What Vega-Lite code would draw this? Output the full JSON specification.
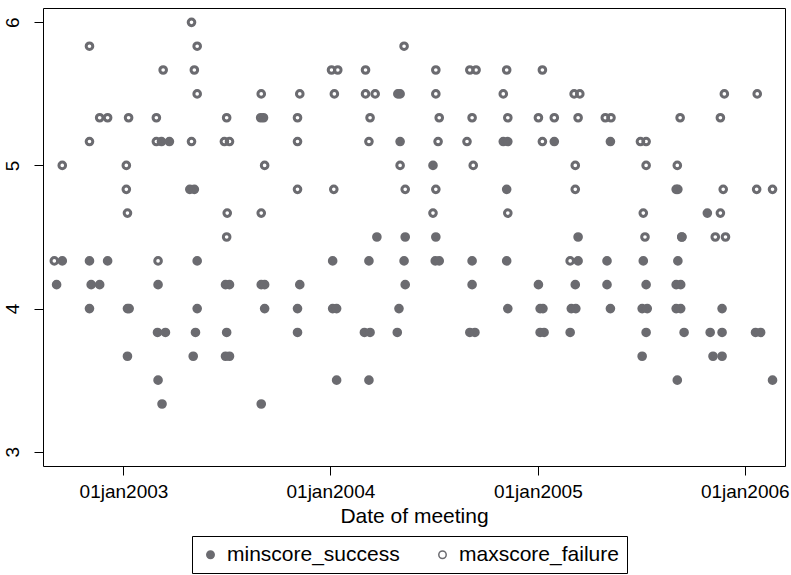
{
  "$schema": "https://vega.github.io/schema/vega-lite/v6.json",
  "width": 742,
  "height": 458,
  "autosize": {"type": "none"},
  "padding": {"left": 43, "top": 8, "right": 6, "bottom": 109},
  "background": "white",
  "config": {
    "font": "Liberation Sans",
    "view": {"stroke": "#000000", "strokeWidth": 1},
    "axis": {"domain": false, "grid": false, "tickColor": "#000000", "tickSize": 9, "tickWidth": 1, "labelColor": "#000000", "titleColor": "#000000", "labelFontSize": 19, "titleFontSize": 21, "titleFontWeight": "normal"}
  },
  "data": {"values": [
    {"d":"2002-09-05","s":4.167,"t":"minscore_success"},
    {"d":"2002-09-15","s":4.333,"t":"minscore_success"},
    {"d":"2002-11-02","s":4.333,"t":"minscore_success"},
    {"d":"2002-11-05","s":4.167,"t":"minscore_success"},
    {"d":"2002-11-02","s":4.0,"t":"minscore_success"},
    {"d":"2002-11-20","s":4.167,"t":"minscore_success"},
    {"d":"2002-12-04","s":4.333,"t":"minscore_success"},
    {"d":"2003-01-08","s":4.0,"t":"minscore_success"},
    {"d":"2003-01-11","s":4.0,"t":"minscore_success"},
    {"d":"2003-01-08","s":3.667,"t":"minscore_success"},
    {"d":"2003-03-09","s":5.167,"t":"minscore_success"},
    {"d":"2003-03-23","s":5.167,"t":"minscore_success"},
    {"d":"2003-03-03","s":4.167,"t":"minscore_success"},
    {"d":"2003-03-02","s":3.833,"t":"minscore_success"},
    {"d":"2003-03-16","s":3.833,"t":"minscore_success"},
    {"d":"2003-03-03","s":3.5,"t":"minscore_success"},
    {"d":"2003-03-10","s":3.333,"t":"minscore_success"},
    {"d":"2003-04-28","s":4.833,"t":"minscore_success"},
    {"d":"2003-05-06","s":4.833,"t":"minscore_success"},
    {"d":"2003-05-11","s":4.333,"t":"minscore_success"},
    {"d":"2003-05-11","s":4.0,"t":"minscore_success"},
    {"d":"2003-05-08","s":3.833,"t":"minscore_success"},
    {"d":"2003-05-04","s":3.667,"t":"minscore_success"},
    {"d":"2003-06-30","s":4.167,"t":"minscore_success"},
    {"d":"2003-07-07","s":4.167,"t":"minscore_success"},
    {"d":"2003-07-02","s":3.833,"t":"minscore_success"},
    {"d":"2003-06-30","s":3.667,"t":"minscore_success"},
    {"d":"2003-07-07","s":3.667,"t":"minscore_success"},
    {"d":"2003-09-05","s":5.333,"t":"minscore_success"},
    {"d":"2003-09-01","s":4.167,"t":"minscore_success"},
    {"d":"2003-09-07","s":4.167,"t":"minscore_success"},
    {"d":"2003-09-07","s":4.0,"t":"minscore_success"},
    {"d":"2003-09-01","s":3.333,"t":"minscore_success"},
    {"d":"2003-11-08","s":4.167,"t":"minscore_success"},
    {"d":"2003-11-04","s":4.0,"t":"minscore_success"},
    {"d":"2003-11-04","s":3.833,"t":"minscore_success"},
    {"d":"2004-01-05","s":4.333,"t":"minscore_success"},
    {"d":"2004-01-05","s":4.0,"t":"minscore_success"},
    {"d":"2004-01-12","s":4.0,"t":"minscore_success"},
    {"d":"2004-01-12","s":3.5,"t":"minscore_success"},
    {"d":"2004-03-09","s":4.333,"t":"minscore_success"},
    {"d":"2004-03-01","s":3.833,"t":"minscore_success"},
    {"d":"2004-03-11","s":3.833,"t":"minscore_success"},
    {"d":"2004-03-09","s":3.5,"t":"minscore_success"},
    {"d":"2004-03-23","s":4.5,"t":"minscore_success"},
    {"d":"2004-05-03","s":5.5,"t":"minscore_success"},
    {"d":"2004-05-03","s":5.167,"t":"minscore_success"},
    {"d":"2004-05-10","s":4.333,"t":"minscore_success"},
    {"d":"2004-05-12","s":4.5,"t":"minscore_success"},
    {"d":"2004-05-12","s":4.167,"t":"minscore_success"},
    {"d":"2004-05-01","s":4.0,"t":"minscore_success"},
    {"d":"2004-04-28","s":3.833,"t":"minscore_success"},
    {"d":"2004-06-30","s":5.0,"t":"minscore_success"},
    {"d":"2004-07-05","s":4.5,"t":"minscore_success"},
    {"d":"2004-07-04","s":4.333,"t":"minscore_success"},
    {"d":"2004-07-11","s":4.333,"t":"minscore_success"},
    {"d":"2004-09-07","s":4.333,"t":"minscore_success"},
    {"d":"2004-09-07","s":4.167,"t":"minscore_success"},
    {"d":"2004-09-03","s":3.833,"t":"minscore_success"},
    {"d":"2004-09-12","s":3.833,"t":"minscore_success"},
    {"d":"2004-11-01","s":5.167,"t":"minscore_success"},
    {"d":"2004-11-09","s":5.167,"t":"minscore_success"},
    {"d":"2004-11-07","s":4.833,"t":"minscore_success"},
    {"d":"2004-11-07","s":4.333,"t":"minscore_success"},
    {"d":"2004-11-09","s":4.0,"t":"minscore_success"},
    {"d":"2005-01-02","s":4.167,"t":"minscore_success"},
    {"d":"2005-01-05","s":4.0,"t":"minscore_success"},
    {"d":"2005-01-10","s":4.0,"t":"minscore_success"},
    {"d":"2005-01-05","s":3.833,"t":"minscore_success"},
    {"d":"2005-01-12","s":3.833,"t":"minscore_success"},
    {"d":"2005-01-30","s":5.167,"t":"minscore_success"},
    {"d":"2005-03-13","s":4.5,"t":"minscore_success"},
    {"d":"2005-03-13","s":4.333,"t":"minscore_success"},
    {"d":"2005-03-08","s":4.167,"t":"minscore_success"},
    {"d":"2005-03-01","s":4.0,"t":"minscore_success"},
    {"d":"2005-03-09","s":4.0,"t":"minscore_success"},
    {"d":"2005-02-27","s":3.833,"t":"minscore_success"},
    {"d":"2005-05-09","s":5.167,"t":"minscore_success"},
    {"d":"2005-05-03","s":4.333,"t":"minscore_success"},
    {"d":"2005-05-03","s":4.167,"t":"minscore_success"},
    {"d":"2005-05-09","s":4.0,"t":"minscore_success"},
    {"d":"2005-07-06","s":4.333,"t":"minscore_success"},
    {"d":"2005-07-11","s":4.167,"t":"minscore_success"},
    {"d":"2005-07-04","s":4.0,"t":"minscore_success"},
    {"d":"2005-07-13","s":4.0,"t":"minscore_success"},
    {"d":"2005-07-11","s":3.833,"t":"minscore_success"},
    {"d":"2005-07-04","s":3.667,"t":"minscore_success"},
    {"d":"2005-09-12","s":4.5,"t":"minscore_success"},
    {"d":"2005-09-05","s":4.333,"t":"minscore_success"},
    {"d":"2005-09-02","s":4.167,"t":"minscore_success"},
    {"d":"2005-09-10","s":4.167,"t":"minscore_success"},
    {"d":"2005-09-02","s":4.0,"t":"minscore_success"},
    {"d":"2005-09-10","s":4.0,"t":"minscore_success"},
    {"d":"2005-09-16","s":3.833,"t":"minscore_success"},
    {"d":"2005-09-04","s":3.5,"t":"minscore_success"},
    {"d":"2005-09-02","s":4.833,"t":"minscore_success"},
    {"d":"2005-10-27","s":4.667,"t":"minscore_success"},
    {"d":"2005-11-22","s":4.0,"t":"minscore_success"},
    {"d":"2005-11-01","s":3.833,"t":"minscore_success"},
    {"d":"2005-11-22","s":3.833,"t":"minscore_success"},
    {"d":"2005-11-06","s":3.667,"t":"minscore_success"},
    {"d":"2005-11-22","s":3.667,"t":"minscore_success"},
    {"d":"2006-01-20","s":3.833,"t":"minscore_success"},
    {"d":"2006-01-29","s":3.833,"t":"minscore_success"},
    {"d":"2006-02-19","s":3.5,"t":"minscore_success"},
    {"d":"2002-09-15","s":5.0,"t":"maxscore_failure"},
    {"d":"2002-09-01","s":4.333,"t":"maxscore_failure"},
    {"d":"2002-11-02","s":5.833,"t":"maxscore_failure"},
    {"d":"2002-11-02","s":5.167,"t":"maxscore_failure"},
    {"d":"2002-11-20","s":5.333,"t":"maxscore_failure"},
    {"d":"2002-12-04","s":5.333,"t":"maxscore_failure"},
    {"d":"2003-01-10","s":5.333,"t":"maxscore_failure"},
    {"d":"2003-01-06","s":5.0,"t":"maxscore_failure"},
    {"d":"2003-01-06","s":4.833,"t":"maxscore_failure"},
    {"d":"2003-01-08","s":4.667,"t":"maxscore_failure"},
    {"d":"2003-03-12","s":5.667,"t":"maxscore_failure"},
    {"d":"2003-02-28","s":5.333,"t":"maxscore_failure"},
    {"d":"2003-02-28","s":5.167,"t":"maxscore_failure"},
    {"d":"2003-03-03","s":4.333,"t":"maxscore_failure"},
    {"d":"2003-05-01","s":6.0,"t":"maxscore_failure"},
    {"d":"2003-05-11","s":5.833,"t":"maxscore_failure"},
    {"d":"2003-05-06","s":5.667,"t":"maxscore_failure"},
    {"d":"2003-05-11","s":5.5,"t":"maxscore_failure"},
    {"d":"2003-05-01","s":5.167,"t":"maxscore_failure"},
    {"d":"2003-07-02","s":5.333,"t":"maxscore_failure"},
    {"d":"2003-06-28","s":5.167,"t":"maxscore_failure"},
    {"d":"2003-07-07","s":5.167,"t":"maxscore_failure"},
    {"d":"2003-07-03","s":4.667,"t":"maxscore_failure"},
    {"d":"2003-07-02","s":4.5,"t":"maxscore_failure"},
    {"d":"2003-09-01","s":5.5,"t":"maxscore_failure"},
    {"d":"2003-08-31","s":5.333,"t":"maxscore_failure"},
    {"d":"2003-09-07","s":5.0,"t":"maxscore_failure"},
    {"d":"2003-09-01","s":4.667,"t":"maxscore_failure"},
    {"d":"2003-11-08","s":5.5,"t":"maxscore_failure"},
    {"d":"2003-11-04","s":5.333,"t":"maxscore_failure"},
    {"d":"2003-11-04","s":5.167,"t":"maxscore_failure"},
    {"d":"2003-11-04","s":4.833,"t":"maxscore_failure"},
    {"d":"2004-01-03","s":5.667,"t":"maxscore_failure"},
    {"d":"2004-01-14","s":5.667,"t":"maxscore_failure"},
    {"d":"2004-01-08","s":5.5,"t":"maxscore_failure"},
    {"d":"2004-01-07","s":4.833,"t":"maxscore_failure"},
    {"d":"2004-03-03","s":5.667,"t":"maxscore_failure"},
    {"d":"2004-03-03","s":5.5,"t":"maxscore_failure"},
    {"d":"2004-03-20","s":5.5,"t":"maxscore_failure"},
    {"d":"2004-03-11","s":5.333,"t":"maxscore_failure"},
    {"d":"2004-03-09","s":5.167,"t":"maxscore_failure"},
    {"d":"2004-05-10","s":5.833,"t":"maxscore_failure"},
    {"d":"2004-04-29","s":5.5,"t":"maxscore_failure"},
    {"d":"2004-05-03","s":5.0,"t":"maxscore_failure"},
    {"d":"2004-05-12","s":4.833,"t":"maxscore_failure"},
    {"d":"2004-07-05","s":5.667,"t":"maxscore_failure"},
    {"d":"2004-07-05","s":5.5,"t":"maxscore_failure"},
    {"d":"2004-07-11","s":5.333,"t":"maxscore_failure"},
    {"d":"2004-07-09","s":5.167,"t":"maxscore_failure"},
    {"d":"2004-07-05","s":4.833,"t":"maxscore_failure"},
    {"d":"2004-06-30","s":4.667,"t":"maxscore_failure"},
    {"d":"2004-09-03","s":5.667,"t":"maxscore_failure"},
    {"d":"2004-09-14","s":5.667,"t":"maxscore_failure"},
    {"d":"2004-09-07","s":5.333,"t":"maxscore_failure"},
    {"d":"2004-08-29","s":5.167,"t":"maxscore_failure"},
    {"d":"2004-09-09","s":5.0,"t":"maxscore_failure"},
    {"d":"2004-11-07","s":5.667,"t":"maxscore_failure"},
    {"d":"2004-11-01","s":5.5,"t":"maxscore_failure"},
    {"d":"2004-11-09","s":5.333,"t":"maxscore_failure"},
    {"d":"2004-11-09","s":4.667,"t":"maxscore_failure"},
    {"d":"2005-01-09","s":5.667,"t":"maxscore_failure"},
    {"d":"2005-01-02","s":5.333,"t":"maxscore_failure"},
    {"d":"2005-01-09","s":5.167,"t":"maxscore_failure"},
    {"d":"2005-01-30","s":5.333,"t":"maxscore_failure"},
    {"d":"2005-03-06","s":5.5,"t":"maxscore_failure"},
    {"d":"2005-03-16","s":5.5,"t":"maxscore_failure"},
    {"d":"2005-03-13","s":5.333,"t":"maxscore_failure"},
    {"d":"2005-03-08","s":5.0,"t":"maxscore_failure"},
    {"d":"2005-03-08","s":4.833,"t":"maxscore_failure"},
    {"d":"2005-02-27","s":4.333,"t":"maxscore_failure"},
    {"d":"2005-04-30","s":5.333,"t":"maxscore_failure"},
    {"d":"2005-05-10","s":5.333,"t":"maxscore_failure"},
    {"d":"2005-07-01","s":5.167,"t":"maxscore_failure"},
    {"d":"2005-07-11","s":5.167,"t":"maxscore_failure"},
    {"d":"2005-07-11","s":5.0,"t":"maxscore_failure"},
    {"d":"2005-07-06","s":4.667,"t":"maxscore_failure"},
    {"d":"2005-07-09","s":4.5,"t":"maxscore_failure"},
    {"d":"2005-09-09","s":5.333,"t":"maxscore_failure"},
    {"d":"2005-09-04","s":5.0,"t":"maxscore_failure"},
    {"d":"2005-09-05","s":4.833,"t":"maxscore_failure"},
    {"d":"2005-09-12","s":4.5,"t":"maxscore_failure"},
    {"d":"2005-11-19","s":5.333,"t":"maxscore_failure"},
    {"d":"2005-11-26","s":5.5,"t":"maxscore_failure"},
    {"d":"2005-11-24","s":4.833,"t":"maxscore_failure"},
    {"d":"2005-11-19","s":4.667,"t":"maxscore_failure"},
    {"d":"2005-11-10","s":4.5,"t":"maxscore_failure"},
    {"d":"2005-11-28","s":4.5,"t":"maxscore_failure"},
    {"d":"2006-01-23","s":5.5,"t":"maxscore_failure"},
    {"d":"2006-01-22","s":4.833,"t":"maxscore_failure"},
    {"d":"2006-02-19","s":4.833,"t":"maxscore_failure"}
  ]},
  "mark": {"type": "point", "filled": true, "shape": "circle", "size": 44, "stroke": "#6b6b70", "strokeWidth": 3, "opacity": 1},
  "encoding": {
    "x": {
      "field": "d", "type": "temporal", "title": "Date of meeting",
      "scale": {"type": "utc", "domain": [{"year": 2002, "month": 8, "date": 12, "utc": true}, {"year": 2006, "month": 3, "date": 13, "utc": true}]},
      "axis": {
        "values": [{"year": 2003, "month": 1, "date": 1, "utc": true}, {"year": 2004, "month": 1, "date": 1, "utc": true}, {"year": 2005, "month": 1, "date": 1, "utc": true}, {"year": 2006, "month": 1, "date": 1, "utc": true}],
        "labelExpr": "lower(utcFormat(datum.value, '%d%b%Y'))",
        "labelPadding": 7, "titlePadding": 4, "labelFlush": false, "labelOverlap": false
      }
    },
    "y": {
      "field": "s", "type": "quantitative", "title": null,
      "scale": {"domain": [2.9, 6.1], "nice": false, "zero": false},
      "axis": {"values": [3, 4, 5, 6], "labelAngle": -90, "labelPadding": 12, "labelFlush": false, "format": "d"}
    },
    "fill": {
      "field": "t", "type": "nominal",
      "scale": {"domain": ["minscore_success", "maxscore_failure"], "range": ["#6b6b70", "transparent"]},
      "legend": {
        "title": null, "orient": "none", "direction": "horizontal", "legendX": 149, "legendY": 528,
        "labelFontSize": 21, "labelColor": "#000000", "labelLimit": 400, "symbolSize": 55, "symbolStrokeWidth": 1.5, "symbolStrokeColor": "#6b6b70", "symbolType": "circle",
        "labelOffset": 6, "columnPadding": 32, "padding": 8, "strokeColor": "#000000"
      }
    }
  }
}
